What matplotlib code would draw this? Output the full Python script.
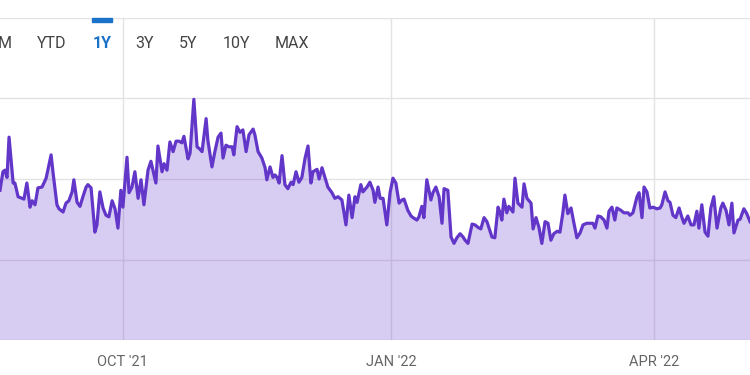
#!/usr/bin/env python3
"""
Recreate a one-year area chart (daily series, YCharts-like styling).
"""

from datetime import datetime, timedelta
import matplotlib
matplotlib.use("Agg")
import matplotlib.pyplot as plt
import matplotlib.dates as mdates
from matplotlib.patches import Rectangle

# Data: day offsets from the start date and the series values
start_date = datetime(2021, 8, 20)
day_offsets = [
    0.0, 1.0, 1.7, 2.4, 3.1, 4.5, 5.1, 6.2, 7.5, 8.2,
    9.2, 10.3, 11.0, 12.0, 13.0, 14.4, 15.8, 17.5, 18.2, 19.5,
    20.2, 21.6, 22.6, 23.6, 24.7, 25.3, 26.4, 27.4, 28.4, 29.5,
    30.1, 31.2, 32.5, 33.2, 34.2, 35.3, 36.3, 37.3, 38.4, 39.4,
    40.4, 41.4, 42.1, 43.5, 44.2, 45.2, 46.2, 47.3, 48.3, 49.3,
    50.7, 51.7, 52.4, 53.4, 54.1, 55.5, 56.2, 57.2, 58.2, 59.3,
    60.3, 61.3, 62.3, 63.0, 64.4, 65.1, 66.4, 67.5, 68.5, 69.2,
    70.6, 71.2, 72.6, 73.6, 74.7, 75.7, 76.4, 77.4, 78.4, 79.5,
    80.1, 81.2, 82.2, 83.2, 84.3, 85.3, 86.7, 87.3, 88.4, 89.7,
    90.8, 91.4, 92.5, 93.5, 94.2, 94.9, 95.6, 96.6, 97.6, 98.6,
    99.7, 100.4, 101.4, 102.4, 103.4, 104.5, 105.5, 106.5, 107.2, 108.6,
    109.3, 110.3, 111.3, 112.3, 113.7, 114.7, 115.8, 117.1, 117.8, 118.5,
    119.5, 120.6, 121.6, 122.3, 123.6, 124.3, 125.7, 126.7, 127.8, 128.4,
    129.5, 130.2, 131.2, 132.5, 133.6, 134.6, 135.6, 136.7, 137.7, 138.4,
    139.7, 140.8, 141.5, 142.8, 143.5, 144.5, 145.2, 146.2, 147.6, 148.3,
    149.3, 150.4, 151.4, 152.1, 153.4, 154.5, 155.5, 156.5, 157.6, 158.6,
    159.3, 160.3, 161.7, 162.7, 163.7, 164.7, 165.8, 166.8, 167.5, 168.5,
    169.5, 170.6, 171.3, 171.9, 172.6, 173.6, 174.3, 175.7, 176.4, 177.4,
    178.8, 179.5, 180.5, 181.9, 182.6, 183.6, 184.6, 185.6, 186.7, 187.7,
    188.7, 189.7, 190.8, 191.8, 192.8, 193.5, 194.5, 195.6, 196.6, 197.6,
    198.7, 199.7, 201.0, 202.1, 203.1, 203.8, 204.8, 205.8, 206.9, 207.9,
    208.6, 209.6, 210.6, 211.3, 212.7, 213.7, 215.1, 215.8, 216.8, 218.2,
    218.9, 219.9, 220.6, 221.6, 222.6, 223.7, 225.0, 226.1, 226.7, 227.8,
    228.8, 229.5, 230.5, 231.5, 232.6, 233.6, 234.3, 235.6, 236.7, 237.7,
    238.7, 239.4, 240.4, 241.5, 242.5, 243.5, 244.5, 245.6, 246.9, 247.6,
    248.7, 249.7, 250.7, 251.4, 252.8, 253.5, 254.8, 255.8, 256.9,
]
values = [
    18.6, 20.9, 21.1, 20.2, 25.2, 19.5, 19.5, 17.8, 17.6, 17.5,
    19.5, 16.5, 17.3, 16.8, 18.9, 19.0, 20.1, 23.0, 20.7, 16.8,
    16.3, 15.9, 17.0, 17.3, 18.4, 19.9, 17.1, 16.6, 17.8, 19.0,
    19.3, 18.9, 13.4, 14.3, 18.4, 16.4, 15.5, 15.3, 17.3, 16.3,
    13.9, 18.6, 16.5, 22.7, 18.3, 19.0, 20.9, 17.6, 19.9, 16.8,
    21.1, 22.2, 21.1, 19.5, 24.1, 20.9, 21.9, 21.1, 24.6, 23.4,
    24.7, 24.7, 24.5, 25.3, 22.5, 23.2, 29.9, 24.0, 23.7, 23.4,
    27.5, 24.8, 21.5, 23.4, 25.2, 25.7, 22.6, 24.2, 24.0, 24.0,
    23.0, 26.5, 25.8, 26.1, 23.4, 25.5, 26.2, 25.5, 23.4, 22.6,
    21.4, 19.9, 21.5, 20.2, 20.5, 20.2, 19.5, 22.9, 19.3, 18.8,
    19.6, 19.3, 20.9, 19.6, 20.2, 22.6, 24.1, 19.5, 20.9, 21.2,
    20.0, 21.4, 20.2, 19.0, 18.3, 17.6, 17.8, 17.4, 15.9, 14.3,
    18.0, 15.2, 17.8, 17.1, 19.3, 18.4, 19.0, 19.6, 18.6, 17.1,
    19.0, 17.6, 17.6, 14.3, 18.3, 20.1, 19.5, 17.0, 17.4, 17.5,
    16.1, 15.4, 15.2, 14.9, 15.3, 16.6, 15.2, 19.9, 17.4, 18.3,
    19.0, 17.8, 14.5, 18.8, 18.6, 12.8, 12.0, 12.7, 13.2, 12.8,
    12.4, 12.0, 14.4, 14.3, 14.0, 13.8, 15.2, 14.7, 13.9, 12.8,
    12.7, 16.5, 15.8, 14.9, 17.5, 15.8, 16.6, 15.9, 20.1, 17.0,
    16.5, 19.4, 17.6, 17.0, 13.8, 15.2, 14.0, 12.0, 14.7, 14.5,
    12.4, 13.2, 13.5, 13.4, 15.8, 18.0, 15.7, 16.4, 14.5, 12.7,
    13.3, 14.3, 14.5, 14.5, 14.5, 13.9, 15.4, 15.3, 14.9, 13.9,
    16.0, 16.5, 14.9, 16.4, 16.1, 15.8, 15.8, 15.5, 15.8, 17.8,
    18.3, 15.2, 19.0, 18.4, 16.4, 16.5, 16.3, 16.4, 16.8, 18.4,
    17.3, 17.1, 15.5, 15.2, 16.4, 15.2, 14.5, 15.4, 14.3, 14.3,
    16.0, 13.9, 16.8, 13.4, 12.9, 16.4, 17.8, 13.9, 16.4, 17.0,
    16.1, 14.3, 17.0, 13.3, 14.9, 15.0, 16.3, 15.7, 14.7,
]
tick_dates = [datetime(2021, 10, 1), datetime(2022, 1, 1), datetime(2022, 4, 1)]
tick_labels = ["OCT '21", "JAN '22", "APR '22"]
y_grid = [0, 10, 20, 30, 40]
range_buttons = ["6M", "YTD", "1Y", "3Y", "5Y", "10Y", "MAX"]
active_button = "1Y"

LINE_COLOR = "#6236c8"
GRID_COLOR = "#e3e3e3"
TEXT_COLOR = "#444444"
ACTIVE_COLOR = "#1a73c8"

plt.rcParams["font.family"] = ["Roboto", "DejaVu Sans"]

dates = [start_date + timedelta(days=d) for d in day_offsets]

fig = plt.figure(figsize=(7.5, 3.75), dpi=100)
ax = fig.add_axes([0, 35 / 375, 1, (340 - 18) / 375])

ax.fill_between(dates, values, 0, color=LINE_COLOR, alpha=0.25, linewidth=0, zorder=2)
ax.plot(dates, values, color=LINE_COLOR, linewidth=2.3, solid_joinstyle="round", zorder=3)

ax.set_xlim(start_date, start_date + timedelta(days=256.9))
ax.set_ylim(y_grid[0], y_grid[-1])
ax.set_yticks(y_grid)
ax.set_xticks(tick_dates)
ax.set_xticklabels(tick_labels, fontsize=10.5, color="#666666")
ax.tick_params(axis="both", length=0)
ax.tick_params(axis="x", pad=11)
ax.set_yticklabels([])
ax.grid(True, color=GRID_COLOR, linewidth=1.0, zorder=1)
ax.set_axisbelow(True)
for spine in ax.spines.values():
    spine.set_visible(False)

# Range selector buttons in the header strip
button_x = [12, 52, 102, 145, 188, 236, 292]
for label, bx in zip(range_buttons, button_x):
    active = label == active_button
    fig.text(
        bx / 750, 1 - 43 / 375, label,
        ha="right" if label == "6M" else "center", va="center",
        fontsize=11.5,
        color=ACTIVE_COLOR if active else TEXT_COLOR,
        fontweight="bold" if active else "normal",
    )
    if active:
        fig.patches.append(Rectangle(
            ((bx - 10) / 750, 1 - 21.5 / 375), 20 / 750, 3.5 / 375,
            transform=fig.transFigure, color=ACTIVE_COLOR, zorder=5,
        ))

fig.savefig("out.png", dpi=100)
